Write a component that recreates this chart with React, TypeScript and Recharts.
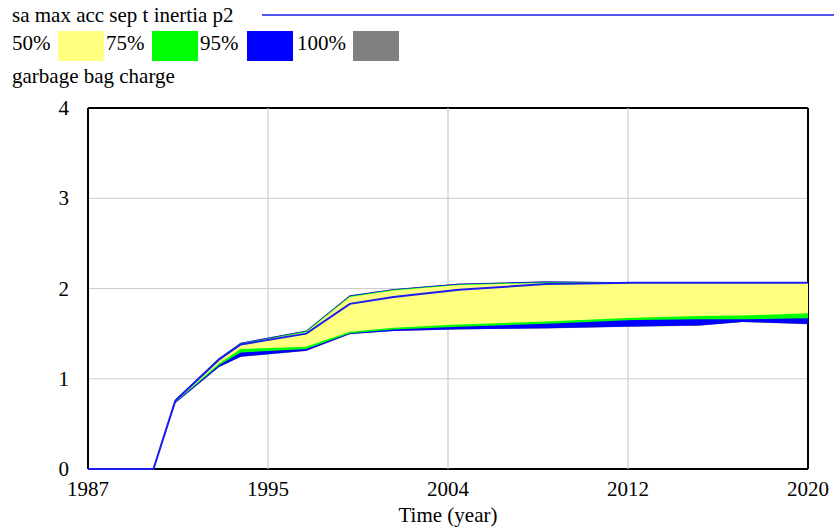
import React from "react";
import {
  ComposedChart,
  Area,
  Line,
  XAxis,
  YAxis,
  CartesianGrid,
} from "recharts";

const years = [1987, 1990, 1991, 1993, 1994, 1997, 1999, 2001, 2004, 2008, 2012, 2015, 2017, 2020];

const baseRun = [0, 0, 0.755, 1.21, 1.38, 1.5, 1.83, 1.905, 1.985, 2.05, 2.065, 2.065, 2.065, 2.065];

const p100 = [0, 0, 0.77, 1.23, 1.4, 1.535, 1.925, 1.995, 2.055, 2.08, 2.07, 2.07, 2.07, 2.07];
const p975 = [0, 0, 0.768, 1.228, 1.398, 1.533, 1.923, 1.993, 2.053, 2.078, 2.068, 2.068, 2.068, 2.068];
const p875 = [0, 0, 0.765, 1.222, 1.392, 1.525, 1.913, 1.985, 2.045, 2.07, 2.066, 2.066, 2.066, 2.066];
const p75 = [0, 0, 0.762, 1.215, 1.385, 1.515, 1.905, 1.978, 2.038, 2.062, 2.062, 2.062, 2.062, 2.062];
const p25 = [0, 0, 0.745, 1.17, 1.33, 1.355, 1.52, 1.565, 1.6, 1.635, 1.675, 1.695, 1.7, 1.725];
const p125 = [0, 0, 0.74, 1.15, 1.29, 1.33, 1.505, 1.545, 1.575, 1.61, 1.65, 1.658, 1.66, 1.67];
const p25low = [0, 0, 0.73, 1.13, 1.245, 1.31, 1.495, 1.53, 1.548, 1.56, 1.578, 1.59, 1.63, 1.607];
const p0 = [0, 0, 0.728, 1.128, 1.243, 1.308, 1.493, 1.528, 1.546, 1.558, 1.576, 1.588, 1.628, 1.605];

const xTicks = [1987, 1995.25, 2003.5, 2011.75, 2020];
const xTickLabels = ["1987", "1995", "2004", "2012", "2020"];
const yTicks = [0, 1, 2, 3, 4];

const legendTitle = "sa max acc sep t inertia p2";
const bandLabels = ["50%", "75%", "95%", "100%"];
const variableName = "garbage bag charge";
const axisTitle = "Time (year)";

const FONT = '"Liberation Serif", "DejaVu Serif", serif';
const FS = 21;
const textStyle: React.CSSProperties = { fontFamily: FONT, fontSize: FS };

const C_YELLOW = "#ffff80";
const C_GREEN = "#00ff00";
const C_BLUE = "#0000ff";
const C_GRAY = "#808080";
const C_LINE = "#1c1cf0";

const data = years.map((y, i) => ({
  year: y,
  gray: [p0[i], p100[i]],
  blue: [p25low[i], p975[i]],
  green: [p125[i], p875[i]],
  yellow: [p25[i], p75[i]],
  base: baseRun[i],
}));

const XTick = (props: any) => {
  const { x, payload } = props;
  const idx = xTicks.indexOf(payload.value);
  const label = idx >= 0 ? xTickLabels[idx] : String(Math.round(payload.value));
  return (
    <text x={x} y={496} textAnchor="middle" style={textStyle} fill="#000">
      {label}
    </text>
  );
};

const YTick = (props: any) => {
  const { y, payload } = props;
  return (
    <text x={69} y={y + 7} textAnchor="end" style={textStyle} fill="#000">
      {payload.value}
    </text>
  );
};

const AxisTitle = () => (
  <text x={448} y={522} textAnchor="middle" style={textStyle} fill="#000">
    {axisTitle}
  </text>
);

const HLine = (props: any) => {
  const { x1, y1, x2, y2, y, height } = props;
  const edge = Math.abs(y1 - y) < 0.6 || Math.abs(y1 - (y + height)) < 0.6;
  return (
    <line
      x1={x1}
      y1={y1}
      x2={x2}
      y2={y2}
      stroke={edge ? "#000" : "#cccccc"}
      strokeWidth={edge ? 2 : 1.2}
    />
  );
};

const VLine = (props: any) => {
  const { x1, y1, x2, y2, x, width } = props;
  const edge = Math.abs(x1 - x) < 0.6 || Math.abs(x1 - (x + width)) < 0.6;
  return (
    <line
      x1={x1}
      y1={y1}
      x2={x2}
      y2={y2}
      stroke={edge ? "#000" : "#cccccc"}
      strokeWidth={edge ? 2 : 1.2}
    />
  );
};

const swatchColors = [C_YELLOW, C_GREEN, C_BLUE, C_GRAY];
const labelX = [12, 106, 200, 297];
const swatchX = [58, 152, 247, 353];

export default function App() {
  return (
    <div style={{ position: "absolute", left: 0, top: 0, width: 834, height: 527, background: "#fff" }}>
      <svg width={834} height={100} style={{ position: "absolute", left: 0, top: 0 }}>
        <text x={12} y={22} style={textStyle} fill="#000">
          {legendTitle}
        </text>
        <line x1={262} y1={15} x2={834} y2={15} stroke={C_LINE} strokeWidth={1.5} />
        {bandLabels.map((b, i) => (
          <g key={b}>
            <text x={labelX[i]} y={50} style={textStyle} fill="#000">
              {b}
            </text>
            <rect x={swatchX[i]} y={31} width={46} height={30} fill={swatchColors[i]} />
          </g>
        ))}
        <text x={12} y={83} style={textStyle} fill="#000">
          {variableName}
        </text>
      </svg>
      <div style={{ position: "absolute", left: 0, top: 0 }}>
        <ComposedChart
          width={834}
          height={527}
          data={data}
          margin={{ top: 108, right: 26, bottom: 0, left: 0 }}
        >
          <CartesianGrid horizontal={<HLine />} vertical={<VLine />} />
          <XAxis
            dataKey="year"
            type="number"
            domain={[1987, 2020]}
            ticks={xTicks}
            tick={<XTick />}
            tickLine={false}
            axisLine={false}
            height={58}
            interval={0}
            label={<AxisTitle />}
          />
          <YAxis
            type="number"
            domain={[0, 4]}
            ticks={yTicks}
            tick={<YTick />}
            tickLine={false}
            axisLine={false}
            width={88}
            interval={0}
          />
          <Area type="linear" dataKey="gray" stroke="none" fill={C_GRAY} fillOpacity={1} isAnimationActive={false} />
          <Area type="linear" dataKey="blue" stroke="none" fill={C_BLUE} fillOpacity={1} isAnimationActive={false} />
          <Area type="linear" dataKey="green" stroke="none" fill={C_GREEN} fillOpacity={1} isAnimationActive={false} />
          <Area type="linear" dataKey="yellow" stroke="none" fill={C_YELLOW} fillOpacity={1} isAnimationActive={false} />
          <Line type="linear" dataKey="base" stroke={C_LINE} strokeWidth={2} dot={false} isAnimationActive={false} />
        </ComposedChart>
      </div>
    </div>
  );
}
